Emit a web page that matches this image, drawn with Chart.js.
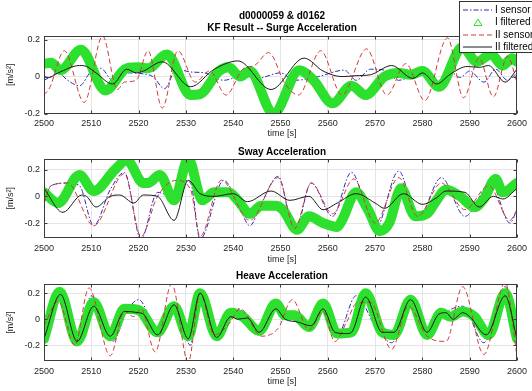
<!DOCTYPE html>
<html>
<head>
<meta charset="utf-8">
<script src="https://cdn.jsdelivr.net/npm/chart.js@4.4.1/dist/chart.umd.min.js"></script>
<style>
  html, body { margin: 0; padding: 0; background: #fff; }
  #wrap { position: relative; width: 532px; height: 391px; overflow: hidden; font-family: "Liberation Sans", Arial, sans-serif; }
  canvas { position: absolute; left: 0; }
  .txt { position: absolute; left: 282px; transform: translate(-50%, -50%); white-space: nowrap; z-index: 2; }
  .ttl { font-weight: bold; font-size: 10px; color: #000; }
  .lab { font-size: 9px; color: #262626; }
</style>
</head>
<body>
<div id="wrap">
  <canvas id="surge" width="532" height="130" style="top:0"></canvas>
  <canvas id="sway" width="532" height="125" style="top:130px"></canvas>
  <canvas id="heave" width="532" height="136" style="top:255px"></canvas>
  <div class="txt ttl" style="top:15px">d0000059 &amp; d0162</div>
  <div class="txt ttl" style="top:27px">KF Result -- Surge Acceleration</div>
  <div class="txt lab" style="top:133px">time [s]</div>
  <div class="txt ttl" style="top:151px">Sway Acceleration</div>
  <div class="txt lab" style="top:259px">time [s]</div>
  <div class="txt ttl" style="top:275px">Heave Acceleration</div>
  <div class="txt lab" style="top:381px">time [s]</div>
</div>
<script>
const xTicks = [2500, 2510, 2520, 2530, 2540, 2550, 2560, 2570, 2580, 2590, 2600];
const yTicks = [-0.2, 0, 0.2];
const seriesNames = ["I sensor", "I filtered", "II sensor", "II filtered"];

// surge: [time, m/s^2] at the turning points
const surgeISensor = [[2500,-0.02],[2501.5,0],[2503,0.02],[2505,-0.02],[2507.5,-0.05],[2510,0.03],[2512,0.045],[2514.5,-0.02],[2518,0.02],[2521,0.015],[2523,0],[2525.5,-0.065],[2528,0.04],[2531,0.025],[2534,0.02],[2538,-0.02],[2542,0.005],[2545,-0.01],[2550,0.02],[2553,-0.02],[2558,0],[2563.5,0.035],[2566,-0.02],[2569,0.04],[2572,0.035],[2575,-0.02],[2580,0.03],[2583,-0.03],[2585.5,0.035],[2588,-0.005],[2590,0.03],[2593,-0.03],[2595.5,0.04],[2598,-0.02],[2600,0.02]];
const surgeIFiltered = [[2500,0.07],[2501.5,0.075],[2503.5,0.035],[2507.8,0.145],[2513,-0.075],[2517.5,0.045],[2520,0.05],[2522,0.045],[2526,0.12],[2531,-0.1],[2533,-0.095],[2537,0.03],[2539,0.05],[2541.5,0],[2543.5,0.03],[2548.5,-0.2],[2554,0.035],[2557,-0.02],[2561,-0.145],[2565,-0.05],[2568,-0.1],[2572,0],[2575,0.02],[2577.5,0.01],[2580,0.03],[2583.5,-0.055],[2588.5,0.16],[2591.5,0.08],[2594.5,0.12],[2597,0.06],[2599,0.1],[2600,0.08]];
const surgeIISensor = [[2500,-0.1],[2501.2,-0.06],[2504.3,0.14],[2508.5,-0.14],[2512.4,0.22],[2515.5,-0.07],[2517,-0.03],[2519.5,-0.02],[2522,0.14],[2525,-0.17],[2528.3,0.14],[2532,-0.03],[2535,0.03],[2538.5,-0.1],[2542,0.04],[2544.5,0.06],[2547.5,0.13],[2551,-0.04],[2553.8,-0.1],[2558.5,0.14],[2563,-0.1],[2568.2,0.15],[2572.5,-0.1],[2576.5,0.07],[2580.5,-0.13],[2585.3,0.21],[2588.7,-0.115],[2592,0.1],[2595,-0.11],[2598,0.11],[2600,-0.03]];
const surgeIIFiltered = [[2500,0],[2501,-0.005],[2503,0.02],[2507.5,0.06],[2509,0.055],[2511,0.02],[2514.5,-0.04],[2517.5,0.04],[2519.5,0.02],[2521,0.03],[2525,0.08],[2531,-0.055],[2536,0.04],[2541,0.085],[2548,-0.07],[2555,0.1],[2559,0.03],[2563,0],[2566,0.005],[2569,0.01],[2573.5,0.06],[2578,-0.01],[2580,0.02],[2583,-0.04],[2586,0.015],[2589.5,0.055],[2592,0.05],[2594,0.06],[2597.5,-0.03],[2600,0.04]];

// sway
const swayISensor = [[2500,-0.05],[2501.5,0.08],[2505,0.1],[2507.5,0.08],[2510.5,-0.22],[2514,0.05],[2517,0.18],[2520.5,-0.32],[2524,0.03],[2527,0],[2529.5,0.12],[2531,0.1],[2533,-0.32],[2538,0.12],[2541,-0.05],[2543.5,-0.22],[2546,-0.05],[2549.5,0.15],[2553,-0.27],[2556.5,0.1],[2561,-0.15],[2565,0.18],[2570,-0.25],[2575,0.19],[2579,-0.17],[2584,0.14],[2589,-0.15],[2594.5,0.1],[2598.5,-0.2],[2600,-0.1]];
const swayIFiltered = [[2500,0.03],[2503,-0.05],[2507.5,0.16],[2510.5,0.04],[2515,0.2],[2517.5,0.27],[2521,0.1],[2522,0.1],[2524.5,0.16],[2527.5,-0.03],[2530.5,0.28],[2533.5,-0.03],[2536,0.03],[2539,0.03],[2541,-0.03],[2543.5,-0.13],[2546,-0.07],[2549,-0.07],[2550.5,-0.1],[2553.5,-0.25],[2556,-0.15],[2559,-0.2],[2562,-0.23],[2563,-0.18],[2566,0.03],[2568.5,-0.1],[2571,-0.26],[2573,-0.2],[2575.5,0.06],[2578.5,-0.15],[2581,-0.13],[2583,-0.03],[2585,0.05],[2588,0],[2591,-0.08],[2593,-0.02],[2595.5,0.13],[2597,0.03],[2600,0.1]];
const swayIISensor = [[2500,-0.05],[2501.5,0.08],[2505,0.1],[2510.5,-0.22],[2517,0.17],[2520.5,-0.3],[2524,0],[2528,0.12],[2531,0.05],[2533,-0.3],[2537.5,0.12],[2543.5,-0.18],[2549.5,0.14],[2553,-0.24],[2556.5,0.1],[2561,-0.13],[2565.5,0.13],[2570,-0.2],[2575,0.14],[2579,-0.15],[2584,0.1],[2589,-0.1],[2594,0.08],[2598.5,-0.18],[2600,-0.1]];
const swayIIFiltered = [[2500,0.06],[2504,-0.12],[2508,0.01],[2509,0],[2511,-0.08],[2514,0],[2516,0.01],[2519,-0.05],[2521,0.01],[2524,0],[2527.5,-0.18],[2530.5,0.12],[2533,0.02],[2536,0],[2540,0.02],[2543,-0.04],[2548,0.04],[2552,-0.03],[2556,0],[2559,-0.1],[2562,-0.05],[2566,0.02],[2570,-0.05],[2572,-0.09],[2576,0.02],[2580,-0.06],[2583,-0.01],[2585,0.04],[2589,0.03],[2592,-0.08],[2595,0],[2597,-0.02],[2600,0.06]];

// heave
const heaveISensor = [[2500,-0.1],[2503,0.15],[2507,-0.15],[2510,0.18],[2514.5,-0.17],[2517.5,0.06],[2520,0.15],[2524.5,-0.13],[2527.5,0.1],[2531,-0.2],[2532.5,0.22],[2536,-0.12],[2541,0.08],[2546,-0.1],[2549,0.1],[2552.5,0],[2556,-0.06],[2559,0.1],[2562,-0.12],[2566,0.18],[2570,-0.05],[2573.5,-0.18],[2577.5,0.15],[2581,-0.12],[2585,0.05],[2588.5,0.1],[2593,-0.18],[2597.5,0.25],[2600,-0.2]];
const heaveIFiltered = [[2500,-0.15],[2503.3,0.21],[2507,-0.17],[2510.5,0.13],[2514,-0.13],[2517,0.08],[2520,0.07],[2524,-0.1],[2527.5,0.1],[2530.5,-0.13],[2533,0.2],[2536.5,-0.13],[2539.5,0.05],[2542,0.02],[2545.5,-0.09],[2549,0.12],[2551,0.03],[2553,0.03],[2556,-0.06],[2559,0.12],[2562,-0.11],[2565,-0.1],[2568,0.2],[2571.5,-0.1],[2574,-0.12],[2577.5,0.15],[2581,-0.12],[2584,0.05],[2586,0.02],[2588.5,0.06],[2591,0.02],[2594,-0.12],[2597.5,0.2],[2600,-0.15]];
const heaveIISensor = [[2500,-0.05],[2503,0.14],[2506.5,-0.2],[2509.5,0.24],[2514,-0.28],[2517,0.06],[2519,0.02],[2520.5,0.08],[2523.5,-0.25],[2527,0.27],[2530.5,-0.33],[2533,0.2],[2536,-0.12],[2539,-0.04],[2541.5,0.08],[2546,-0.13],[2549.5,-0.07],[2552.5,0.15],[2556,-0.08],[2559,0.06],[2561.5,-0.17],[2564,-0.02],[2566,0.12],[2569,0.13],[2573.5,-0.23],[2577,0.1],[2581,-0.13],[2585,-0.17],[2588.5,0.25],[2593,-0.27],[2597.5,0.28],[2600,-0.28]];
const heaveIIFiltered = [[2500,-0.15],[2503.5,0.19],[2507,-0.17],[2510.5,0.1],[2514,-0.13],[2517,0.06],[2520,0.05],[2521,0.04],[2524,-0.12],[2527.5,0.11],[2530.5,-0.15],[2533,0.2],[2536.5,-0.14],[2539.5,0.02],[2541,0],[2543,0.01],[2545.5,-0.1],[2549,0.08],[2551,0],[2553.5,-0.02],[2556.5,-0.05],[2559,0.08],[2561.5,-0.1],[2564,-0.11],[2565,-0.1],[2568,0.17],[2571.5,-0.1],[2574,-0.1],[2577.5,0.15],[2581,-0.1],[2583.5,0.04],[2585,0.05],[2586.5,0],[2588.5,0.05],[2590,0.02],[2593.5,-0.12],[2597.5,0.18],[2600,-0.15]];

const styles = [
  { color: "#2a2ab8", width: 1, dash: [5, 2, 1.5, 2], order: 3 },
  { color: "#2ee02e", width: 10, dash: [], order: 2 },
  { color: "#d23a3a", width: 1, dash: [5, 3], order: 1 },
  { color: "#1a1a1a", width: 1, dash: [], order: 0 }
];
const axisColor = "#262626";

const toXY = (pairs) => pairs.map(([x, y]) => ({ x, y }));

// MATLAB style box with inward ticks
const boxPlugin = {
  id: "box",
  afterDraw(chart) {
    const { ctx, chartArea: a, scales } = chart;
    const l = Math.round(a.left) + 0.5, r = Math.round(a.right) - 0.5;
    const t = Math.round(a.top) + 0.5, b = Math.round(a.bottom) - 0.5;
    ctx.save();
    ctx.strokeStyle = "#3c3c3c";
    ctx.lineWidth = 1;
    ctx.strokeRect(l, t, r - l, b - t);
    ctx.beginPath();
    xTicks.forEach((v) => {
      const x = Math.round(scales.x.getPixelForValue(v)) + 0.5;
      ctx.moveTo(x, b); ctx.lineTo(x, b - 3);
      ctx.moveTo(x, t); ctx.lineTo(x, t + 3);
    });
    yTicks.forEach((v) => {
      const y = Math.round(scales.y.getPixelForValue(v)) + 0.5;
      ctx.moveTo(l, y); ctx.lineTo(l + 3, y);
      ctx.moveTo(r, y); ctx.lineTo(r - 3, y);
    });
    ctx.stroke();
    ctx.restore();
  }
};

const legendPlugin = {
  id: "mlLegend",
  afterDraw(chart) {
    const ctx = chart.ctx;
    const rows = [10, 22.5, 35, 47];
    ctx.save();
    ctx.fillStyle = "#fff";
    ctx.fillRect(459.5, 1.5, 80, 51);
    ctx.strokeStyle = "#333";
    ctx.lineWidth = 1;
    ctx.strokeRect(459.5, 1.5, 80, 51);
    ctx.font = "10px 'Liberation Sans', Arial, sans-serif";
    ctx.textBaseline = "middle";
    seriesNames.forEach((name, i) => {
      const s = styles[i];
      const y = rows[i];
      ctx.strokeStyle = s.color;
      ctx.lineWidth = 1;
      if (i === 1) {
        ctx.setLineDash([]);
        ctx.beginPath();
        ctx.moveTo(478, y - 3.5); ctx.lineTo(482, y + 3); ctx.lineTo(474, y + 3); ctx.closePath();
        ctx.stroke();
      } else {
        ctx.setLineDash(s.dash);
        ctx.beginPath();
        ctx.moveTo(463, y); ctx.lineTo(492, y);
        ctx.stroke();
      }
      ctx.setLineDash([]);
      ctx.fillStyle = "#000";
      ctx.fillText(name, 495, y);
    });
    ctx.restore();
  }
};

function makeChart(id, series, yMin, yMax, padTop, xAxisHeight, extra) {
  return new Chart(document.getElementById(id), {
    type: "line",
    data: {
      datasets: series.map((pairs, i) => ({
        label: seriesNames[i],
        data: toXY(pairs),
        borderColor: styles[i].color,
        borderWidth: styles[i].width,
        borderDash: styles[i].dash,
        borderJoinStyle: "round",
        borderCapStyle: i === 1 ? "round" : "butt",
        order: styles[i].order,
        cubicInterpolationMode: "monotone",
        pointRadius: 0,
        fill: false
      }))
    },
    options: {
      responsive: false,
      animation: false,
      events: [],
      layout: { padding: { top: padTop, right: 11, left: 0, bottom: 0 } },
      plugins: { legend: { display: false }, tooltip: { enabled: false } },
      scales: {
        x: {
          type: "linear",
          min: xTicks[0],
          max: xTicks[xTicks.length - 1],
          afterBuildTicks: (s) => { s.ticks = xTicks.map((value) => ({ value })); },
          afterFit: (s) => { s.height = xAxisHeight; },
          grid: { color: "#e4e4e4", drawTicks: false },
          border: { display: false },
          ticks: { padding: 5, color: axisColor, font: { size: 9, family: "'Liberation Sans', Arial" }, maxRotation: 0, callback: (v) => String(v) }
        },
        y: {
          min: yMin,
          max: yMax,
          afterBuildTicks: (s) => { s.ticks = yTicks.map((value) => ({ value })); },
          afterFit: (s) => { s.width = 44; },
          grid: { color: "#e4e4e4", drawTicks: false },
          border: { display: false },
          ticks: { padding: 4, color: axisColor, font: { size: 9, family: "'Liberation Sans', Arial" }, callback: (v) => String(v) },
          title: { display: true, text: "[m/s²]", color: axisColor, font: { size: 9, family: "'Liberation Sans', Arial" }, padding: { top: 5, bottom: 0 } }
        }
      }
    },
    plugins: [boxPlugin].concat(extra || [])
  });
}

makeChart("surge", [surgeISensor, surgeIFiltered, surgeIISensor, surgeIIFiltered], -0.2, 0.22, 36, 16.5, [legendPlugin]);
makeChart("sway", [swayISensor, swayIFiltered, swayIISensor, swayIIFiltered], -0.31, 0.28, 29, 17.3);
makeChart("heave", [heaveISensor, heaveIFiltered, heaveIISensor, heaveIIFiltered], -0.32, 0.27, 29, 30);
</script>
</body>
</html>
